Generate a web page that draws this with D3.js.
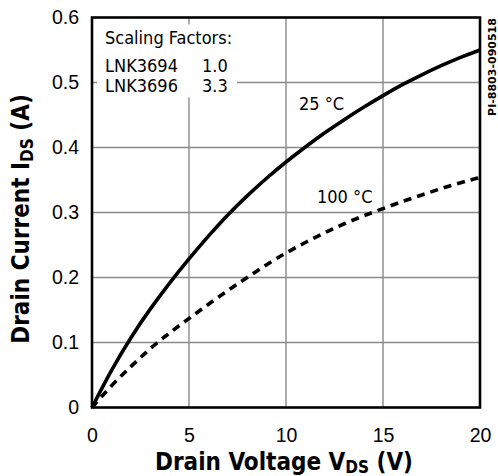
<!DOCTYPE html>
<html>
<head>
<meta charset="utf-8">
<script src="https://cdn.jsdelivr.net/npm/d3@7"></script>
<style>
  body { margin: 0; background: #fff; }
  svg { display: block; font-family: "DejaVu Sans", Verdana, sans-serif; font-stretch: condensed; }
  .tick text { fill: #000; }
</style>
</head>
<body>
<div id="chart"></div>
<script>
// Drain voltage (V) sample points
const vds = [0, 1, 2, 3, 4, 5, 6, 7, 8, 9, 10, 11, 12, 13, 14, 15, 16, 17, 18, 19, 20];
// Drain current (A) at 25 C and 100 C
const ids25 = [0, 0.058, 0.108, 0.152, 0.192, 0.229, 0.264, 0.297, 0.326, 0.353, 0.378,
               0.401, 0.423, 0.443, 0.462, 0.480, 0.497, 0.512, 0.526, 0.539, 0.550];
const ids100 = [0, 0.034, 0.063, 0.091, 0.115, 0.137, 0.159, 0.180, 0.200, 0.220, 0.238,
                0.254, 0.269, 0.283, 0.295, 0.306, 0.317, 0.327, 0.337, 0.346, 0.354];
const xTicks = [0, 5, 10, 15, 20];
const yTicks = [0, 0.1, 0.2, 0.3, 0.4, 0.5, 0.6];
const scaling = [["LNK3694", "1.0"], ["LNK3696", "3.3"]];

const W = 498, H = 476;
const margin = {top: 17.5, left: 92, right: 18, bottom: 68.5};
const width = W - margin.left - margin.right;
const height = H - margin.top - margin.bottom;

const svg = d3.select("#chart").append("svg")
    .attr("width", W)
    .attr("height", H);

const g = svg.append("g")
    .attr("transform", `translate(${margin.left},${margin.top})`);

const x = d3.scaleLinear().domain([0, 20]).range([0, width]);
const y = d3.scaleLinear().domain([0, 0.6]).range([height, 0]);

// Grid lines
g.append("g").selectAll("line")
    .data(xTicks.slice(1, -1))
    .join("line")
    .attr("x1", d => x(d)).attr("x2", d => x(d))
    .attr("y1", 0).attr("y2", height)
    .attr("stroke", "#8a8a8a").attr("stroke-width", 1.4);

g.append("g").selectAll("line")
    .data(yTicks.slice(1, -1))
    .join("line")
    .attr("x1", 0).attr("x2", width)
    .attr("y1", d => y(d)).attr("y2", d => y(d))
    .attr("stroke", "#8a8a8a").attr("stroke-width", 1.4);

// Legend box (covers grid)
g.append("rect")
    .attr("x", 5).attr("y", 7)
    .attr("width", 140).attr("height", 73)
    .attr("fill", "#fff");

const legend = g.append("g").attr("font-size", 18);
legend.append("text").attr("x", 13).attr("y", 26.5).text("Scaling Factors:");
scaling.forEach((s, i) => {
    legend.append("text").attr("x", 13).attr("y", 54.5 + i * 20).text(s[0]);
    legend.append("text").attr("x", 110).attr("y", 54.5 + i * 20).text(s[1]);
});

// Curves
const line = d3.line()
    .x((d, i) => x(vds[i]))
    .y(d => y(d))
    .curve(d3.curveBasis);

g.append("path")
    .attr("d", line(ids25))
    .attr("fill", "none")
    .attr("stroke", "#000")
    .attr("stroke-width", 3.6);

g.append("path")
    .attr("d", line(ids100))
    .attr("fill", "none")
    .attr("stroke", "#000")
    .attr("stroke-width", 3.6)
    .attr("stroke-dasharray", "8,6");

// Curve labels
g.append("text")
    .attr("x", 207).attr("y", 92.5)
    .attr("font-size", 18)
    .text("25 \u00B0C");
g.append("text")
    .attr("x", 225).attr("y", 185.5)
    .attr("font-size", 18)
    .text("100 \u00B0C");

// Frame
g.append("rect")
    .attr("width", width).attr("height", height)
    .attr("fill", "none")
    .attr("stroke", "#000")
    .attr("stroke-width", 2.6);

// Axes (labels only)
const xAxis = g.append("g")
    .attr("transform", `translate(0,${height})`)
    .call(d3.axisBottom(x).tickValues(xTicks).tickSize(0).tickPadding(21)
        .tickFormat(d3.format("d")));
const yAxis = g.append("g")
    .call(d3.axisLeft(y).tickValues(yTicks).tickSize(0).tickPadding(13)
        .tickFormat(d => d === 0 ? "0" : d3.format(".1f")(d)));
[xAxis, yAxis].forEach(a => {
    a.select(".domain").remove();
    a.selectAll("text").attr("font-size", 19.5).attr("font-family", null);
});

// Axis titles
const xt = svg.append("text")
    .attr("x", 284).attr("y", 470)
    .attr("text-anchor", "middle")
    .attr("font-size", 24).attr("font-weight", "bold");
xt.append("tspan").text("Drain Voltage V");
xt.append("tspan").attr("font-size", 17).attr("dy", 3).text("DS");
xt.append("tspan").attr("dy", -3).text(" (V)");

const yt = svg.append("text")
    .attr("transform", "translate(29,219) rotate(-90)")
    .attr("text-anchor", "middle")
    .attr("font-size", 24).attr("font-weight", "bold");
yt.append("tspan").text("Drain Current I");
yt.append("tspan").attr("font-size", 17).attr("dy", 4).text("DS");
yt.append("tspan").attr("dy", -4).text(" (A)");

// Figure id
svg.append("text")
    .attr("transform", "translate(496,67) rotate(-90)")
    .attr("text-anchor", "middle")
    .attr("font-size", 11).attr("font-weight", "bold")
    .style("font-stretch", "normal")
    .text("PI-8803-090518");
</script>
</body>
</html>
